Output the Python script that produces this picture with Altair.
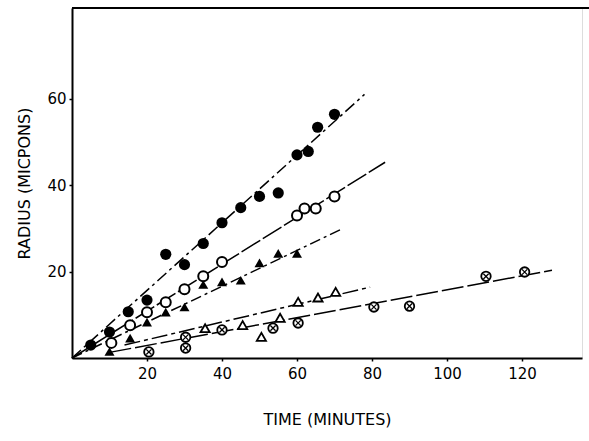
import altair as alt
import pandas as pd

# ---- data ----
fc_t = [5, 10, 15, 20, 25, 30, 35, 40, 45, 50, 55, 60, 63, 65.5, 70]
fc_r = [3, 6, 10.7, 13.4, 24, 21.6, 26.5, 31.3, 34.8, 37.4, 38.2, 47, 47.8, 53.4, 56.4]

oc_t = [10.5, 15.5, 20, 25, 30, 35, 40, 60, 62, 65, 70]
oc_r = [3.5, 7.6, 10.6, 12.9, 15.9, 18.9, 22.2, 33, 34.6, 34.6, 37.4]

ft_t = [10, 15.5, 20, 25, 30, 35, 40, 45, 50, 55, 60]
ft_r = [1.5, 4.6, 8.3, 10.6, 11.8, 17, 17.6, 18, 22, 24.2, 24.2]

ot_t = [35.5, 45.5, 50.5, 55.5, 60.3, 65.6, 70.3]
ot_r = [6.9, 7.6, 4.9, 9.3, 13, 14, 15.3]

xc_t = [20.5, 30.3, 30.3, 40, 53.6, 60.3, 80.5, 90, 110.4, 120.7]
xc_r = [1.4, 2.3, 4.8, 6.5, 6.9, 8.1, 11.8, 12, 18.9, 19.9]

# fitted lines (end points)
fc_line_t = [0, 78]
fc_line_r = [0, 61]
oc_line_t = [0, 83.5]
oc_line_r = [0, 45.3]
ft_line_t = [0, 72.3]
ft_line_r = [0, 30]
ot_line_t = [14, 79.5]
ot_line_r = [3, 16.4]
xc_line_t = [10, 128]
xc_line_r = [1.3, 20.3]

x_ticks = [20, 40, 60, 80, 100, 120]
y_ticks = [20, 40, 60]

X_MAX = 136
Y_MAX = 81
W = 510
H = 350
FONT = "DejaVu Sans"

xs = alt.Scale(domain=[0, X_MAX], nice=False, zero=True)
ys = alt.Scale(domain=[0, Y_MAX], nice=False, zero=True)

xax = alt.Axis(values=x_ticks, title="TIME (MINUTES)", grid=False, tickSize=3,
               labelPadding=5, titlePadding=30, domainWidth=2, tickWidth=1.5,
               labelFont=FONT, labelFontSize=15, titleFont=FONT, titleFontSize=16,
               titleFontWeight="normal", labelColor="black", titleColor="black",
               domainColor="black", tickColor="black")
yax = alt.Axis(values=y_ticks, title="RADIUS (MICPONS)", grid=False, tickSize=3,
               labelPadding=3, titlePadding=14, domainWidth=2, tickWidth=1.5,
               labelFont=FONT, labelFontSize=15, titleFont=FONT, titleFontSize=16,
               titleFontWeight="normal", labelColor="black", titleColor="black",
               domainColor="black", tickColor="black")


def df(t, r):
    return pd.DataFrame({"t": t, "r": r})


def line(t, r, dash):
    return alt.Chart(df(t, r)).mark_line(color="black", strokeWidth=1.5,
                                         strokeDash=dash).encode(
        x=alt.X("t:Q", scale=xs, axis=xax), y=alt.Y("r:Q", scale=ys, axis=yax))


def pts(t, r, **kw):
    return alt.Chart(df(t, r)).mark_point(**kw).encode(
        x=alt.X("t:Q", scale=xs, axis=xax), y=alt.Y("r:Q", scale=ys, axis=yax))


layers = [
    line(fc_line_t, fc_line_r, [12, 4, 3, 4]),
    line(oc_line_t, oc_line_r, [22, 3]),
    line(ft_line_t, ft_line_r, [11, 4, 3, 4]),
    line(ot_line_t, ot_line_r, [16, 4, 4, 4]),
    line(xc_line_t, xc_line_r, [22, 4]),
    pts(fc_t, fc_r, shape="circle", filled=True, color="black", size=125, opacity=1),
    pts(oc_t, oc_r, shape="circle", filled=True, fill="white", stroke="black",
        strokeWidth=2, size=100, opacity=1),
    pts(ft_t, ft_r, shape="triangle-up", filled=True, color="black", size=100, opacity=1),
    pts(ot_t, ot_r, shape="triangle-up", filled=True, fill="white", stroke="black",
        strokeWidth=1.8, size=85, opacity=1),
    pts(xc_t, xc_r, shape="circle", filled=True, fill="white", stroke="black",
        strokeWidth=1.8, size=90, opacity=1),
    pts(xc_t, xc_r, shape="M-0.55,-0.55L0.55,0.55M-0.55,0.55L0.55,-0.55",
        filled=False, stroke="black", strokeWidth=1.3, size=90, opacity=1),
    # top border of the frame (no right border in the original)
    alt.Chart(df([0], [0])).mark_rule(color="black", strokeWidth=2).encode(
        x=alt.value(0), x2=alt.value(W + 7), y=alt.value(0)),
]

chart = alt.layer(*layers).properties(
    width=W, height=H,
    autosize=alt.AutoSizeParams(type="none"),
    padding={"left": 72, "top": 8, "right": 7, "bottom": 83},
).configure_view(stroke=None).configure(background="white")

chart.save("out.html", embed_options={"renderer": "svg", "actions": False})
